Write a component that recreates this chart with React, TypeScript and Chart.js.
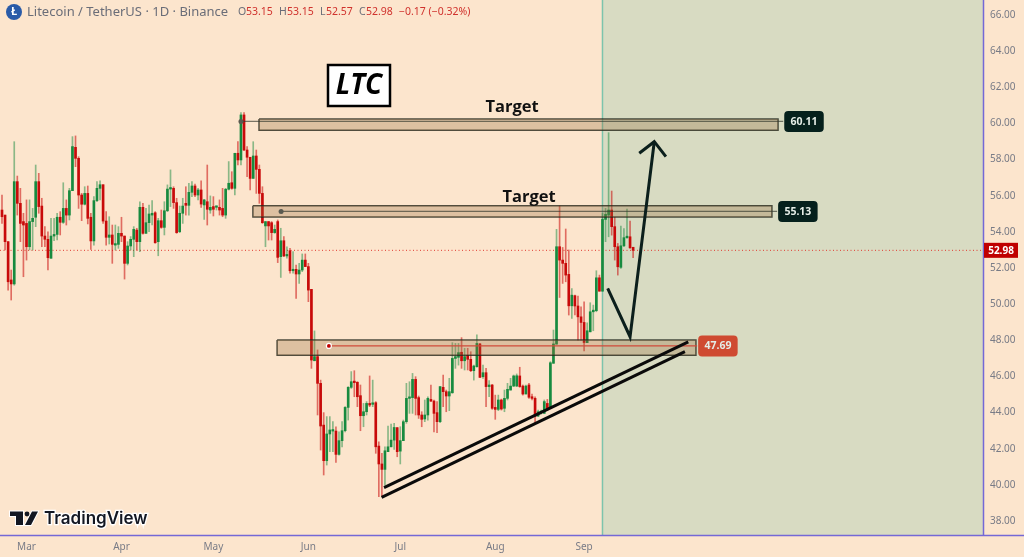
import React, { useEffect, useRef } from 'react';
import { Chart, registerables } from 'chart.js';

Chart.register(...registerables);

const opens = [
  55.21, 54.93, 53.46, 51.34, 51.12, 56.78, 55.58, 54.57, 54.47, 53.18,
  54.57, 54.81, 56.78, 55.43, 53.77, 53.59, 52.54, 53.77, 53.86, 54.81,
  54.53, 55.30, 54.93, 56.28, 58.68, 58.07, 56.04, 55.53, 56.13, 54.81,
  53.50, 55.73, 56.41, 56.61, 54.60, 53.70, 53.83, 53.27, 53.31, 53.92,
  53.77, 52.26, 53.22, 53.59, 54.10, 53.46, 55.36, 53.92, 54.51, 54.93,
  55.06, 53.46, 54.62, 54.25, 55.17, 56.37, 56.41, 55.62, 54.01, 55.03,
  55.58, 55.47, 56.19, 56.54, 56.04, 56.32, 55.49, 55.67, 55.21, 55.40,
  55.36, 55.36, 55.30, 54.93, 56.36, 56.72, 56.41, 58.35, 57.98, 60.47,
  58.53, 58.13, 56.96, 58.20, 57.46, 56.13, 54.33, 54.57, 54.51, 53.96,
  54.57, 52.63, 53.51, 52.67, 52.96, 51.85, 51.93, 51.67, 51.89, 52.44,
  52.08, 50.82, 46.87, 47.10, 45.62, 43.31, 41.34, 42.82, 42.98, 42.98,
  41.69, 42.45, 43.00, 44.29, 45.40, 45.71, 45.68, 44.94, 43.83, 44.05,
  44.51, 44.46, 44.55, 42.15, 41.16, 40.86, 41.84, 42.11, 42.48, 43.17,
  41.87, 42.45, 43.50, 44.79, 44.83, 45.84, 44.83, 43.87, 43.65, 43.87,
  44.73, 44.64, 44.00, 43.50, 45.40, 45.16, 44.92, 45.10, 47.00, 47.06,
  47.34, 46.87, 47.17, 46.95, 46.32, 46.54, 47.80, 45.99, 46.21, 45.44,
  45.53, 44.29, 44.18, 44.70, 44.24, 44.79, 45.25, 45.47, 45.47, 46.03,
  45.47, 45.03, 45.53, 44.88, 44.79, 43.81, 44.00, 43.96, 44.51, 44.29,
  46.73, 47.79, 53.18, 52.44, 52.26, 51.65, 49.91, 50.47, 49.90, 49.30,
  48.99, 47.87, 48.47, 49.58, 49.64, 51.46, 50.72, 54.69, 54.93, 55.21,
  54.29, 53.18, 52.04, 53.23, 53.68, 53.73, 53.15,
];
const closes = [
  54.84, 53.46, 51.24, 51.12, 56.78, 55.58, 54.47, 54.38, 53.18, 54.57,
  54.75, 56.78, 55.40, 53.77, 53.59, 52.57, 53.77, 53.86, 54.81, 54.53,
  55.30, 54.93, 56.28, 58.72, 58.07, 56.04, 55.53, 56.13, 54.75, 53.50,
  55.73, 56.41, 56.61, 54.60, 53.70, 53.83, 53.31, 53.31, 53.92, 53.77,
  52.26, 53.22, 53.59, 54.14, 53.46, 55.36, 53.92, 54.51, 54.99, 55.03,
  53.40, 54.62, 54.25, 55.17, 56.37, 56.41, 55.62, 53.96, 55.03, 55.43,
  55.47, 56.19, 56.54, 56.04, 56.32, 55.54, 55.77, 55.25, 55.36, 55.25,
  55.40, 55.21, 54.93, 56.36, 56.69, 56.41, 58.35, 57.98, 60.47, 58.53,
  58.13, 56.96, 58.20, 57.46, 56.13, 54.51, 54.57, 54.33, 53.96, 54.14,
  52.59, 53.51, 52.67, 52.72, 51.85, 51.93, 51.67, 51.89, 52.44, 52.08,
  50.78, 46.91, 47.10, 45.62, 43.26, 41.34, 42.82, 43.04, 43.04, 41.69,
  42.45, 43.00, 44.29, 45.40, 45.71, 45.66, 44.88, 43.83, 44.05, 44.51,
  44.42, 44.51, 42.11, 41.16, 40.86, 41.89, 42.11, 42.48, 43.18, 41.84,
  42.45, 43.50, 44.79, 44.83, 45.84, 44.79, 43.87, 43.63, 43.87, 44.79,
  44.64, 43.96, 43.50, 45.44, 45.16, 44.92, 45.16, 47.00, 47.10, 47.32,
  46.87, 47.10, 46.95, 46.32, 46.58, 47.83, 45.95, 46.21, 45.44, 45.53,
  44.24, 44.18, 44.70, 44.20, 44.79, 45.29, 45.47, 46.03, 46.04, 45.44,
  45.03, 45.47, 44.85, 44.79, 43.81, 44.05, 44.05, 44.61, 44.24, 46.76,
  47.80, 53.18, 52.44, 52.26, 51.61, 49.91, 50.50, 49.90, 49.30, 48.99,
  47.88, 48.53, 49.58, 49.67, 51.46, 50.72, 54.69, 54.97, 55.21, 54.29,
  53.18, 52.07, 53.23, 53.68, 53.73, 53.12, 52.98,
];
const highs = [
  56.04, 54.93, 53.46, 51.89, 58.99, 57.09, 56.41, 55.03, 55.77, 55.77,
  55.30, 57.70, 57.24, 55.86, 54.29, 54.01, 54.75, 54.75, 55.03, 55.12,
  56.72, 55.77, 56.41, 59.27, 59.31, 58.16, 56.13, 56.50, 56.54, 55.03,
  55.95, 56.78, 56.83, 56.61, 55.12, 54.84, 54.38, 54.38, 54.29, 54.81,
  53.77, 53.46, 53.74, 54.29, 54.20, 55.67, 55.58, 55.30, 55.49, 55.73,
  55.12, 54.75, 55.21, 55.67, 56.60, 57.43, 56.50, 55.86, 55.43, 55.86,
  56.50, 56.69, 56.78, 56.65, 56.41, 56.83, 55.80, 57.70, 55.99, 55.95,
  55.43, 55.77, 56.41, 56.41, 57.89, 57.33, 58.35, 58.99, 60.60, 60.60,
  58.72, 58.13, 58.99, 58.53, 57.70, 56.50, 54.57, 54.57, 54.57, 54.38,
  54.66, 54.20, 53.74, 53.18, 53.09, 52.91, 52.17, 52.26, 52.78, 52.78,
  52.26, 50.82, 48.52, 47.47, 45.80, 44.00, 43.78, 43.78, 43.50, 43.22,
  42.94, 43.50, 44.33, 45.44, 46.27, 46.32, 45.71, 45.53, 44.51, 44.61,
  46.03, 45.80, 44.61, 42.39, 41.75, 42.11, 43.26, 43.37, 43.41, 43.17,
  43.22, 43.59, 45.62, 45.71, 46.17, 45.99, 44.92, 44.05, 44.70, 44.88,
  45.53, 44.70, 44.61, 45.44, 46.08, 45.25, 45.90, 47.87, 47.83, 47.83,
  48.15, 47.56, 47.56, 47.37, 46.63, 48.30, 47.83, 46.63, 46.45, 45.77,
  45.56, 44.97, 44.97, 44.75, 45.25, 45.62, 45.90, 46.08, 46.14, 46.51,
  45.53, 45.53, 45.62, 45.03, 44.88, 44.14, 44.14, 44.70, 44.73, 46.82,
  48.57, 54.14, 55.43, 53.14, 54.16, 53.00, 50.87, 50.50, 50.45, 49.86,
  50.13, 48.97, 50.08, 49.95, 51.85, 51.61, 55.02, 55.30, 59.49, 56.26,
  54.80, 53.36, 54.32, 54.19, 55.26, 54.60, 53.15,
];
const lows = [
  54.47, 53.00, 50.78, 50.23, 51.05, 54.93, 53.46, 51.52, 52.44, 53.00,
  53.00, 54.29, 55.03, 53.18, 53.18, 51.89, 52.54, 53.51, 53.55, 53.83,
  54.47, 54.38, 54.66, 56.28, 57.61, 55.30, 54.62, 55.49, 54.44, 53.03,
  53.27, 55.67, 55.77, 54.47, 53.27, 53.33, 52.26, 53.00, 53.09, 53.46,
  51.39, 52.17, 53.00, 52.63, 53.00, 52.91, 53.88, 53.92, 54.01, 54.38,
  53.37, 52.68, 54.20, 53.83, 55.12, 55.40, 55.30, 53.92, 53.96, 54.47,
  54.93, 54.93, 55.95, 55.95, 55.77, 55.36, 54.69, 54.38, 55.03, 54.88,
  55.21, 54.93, 54.84, 54.75, 56.32, 56.36, 56.04, 57.70, 57.70, 58.50,
  57.06, 56.32, 56.96, 56.13, 55.58, 54.47, 53.18, 53.55, 53.55, 53.92,
  52.30, 51.48, 52.63, 52.54, 51.71, 51.71, 50.32, 51.15, 51.80, 52.08,
  50.14, 46.45, 46.87, 43.87, 41.93, 40.55, 41.10, 41.84, 41.84, 41.25,
  41.65, 42.11, 42.94, 43.59, 45.34, 44.88, 44.33, 43.00, 43.22, 43.87,
  44.33, 44.33, 41.75, 39.35, 39.35, 39.99, 41.84, 42.11, 41.97, 41.56,
  41.16, 42.45, 43.41, 43.96, 43.96, 43.87, 43.68, 43.22, 43.50, 43.59,
  44.61, 42.94, 42.89, 43.44, 44.33, 44.05, 44.11, 45.07, 46.45, 46.63,
  46.45, 46.36, 46.36, 46.27, 45.80, 46.51, 45.95, 45.90, 44.33, 44.88,
  44.18, 43.63, 44.11, 44.14, 44.05, 44.70, 45.25, 45.44, 45.44, 45.40,
  44.97, 45.03, 44.79, 44.70, 43.41, 43.78, 43.92, 43.96, 44.11, 44.29,
  46.73, 47.79, 50.37, 51.15, 51.24, 49.40, 49.21, 49.40, 48.01, 48.01,
  47.42, 47.87, 48.47, 48.53, 49.58, 50.72, 50.72, 53.46, 53.73, 53.82,
  52.44, 51.61, 51.98, 53.18, 53.64, 53.09, 52.57,
];

const months = ['Mar', 'Apr', 'May', 'Jun', 'Jul', 'Aug', 'Sep'];
const monthCandles = [8, 39, 69, 100, 130, 161, 190];

const lastPrice = 52.98;
const projectionStart = 196;

// [left candle, right candle, top price, bottom price]
const bands = [
  [83.9, 253.3, 60.25, 59.62],
  [81.9, 251.3, 55.45, 54.83],
  [89.8, 226.5, 48.02, 47.17],
];
// [first candle, last candle, price, label]
const levels = [
  [78, 255, 60.11, '60.11'],
  [91.1, 253, 55.13, '55.13'],
  [106.7, 226.9, 47.69, '47.69'],
];
const trendUpper = [
  { x: 124.7, y: 39.85 },
  { x: 224, y: 47.92 },
];
const trendLower = [
  { x: 123.9, y: 39.31 },
  { x: 222.9, y: 47.37 },
];
const arrowPath = [
  { x: 197.7, y: 50.88 },
  { x: 205, y: 48.2 },
  { x: 212.9, y: 58.99 },
];
const arrowHead = [
  { x: 208, y: 58.35 },
  { x: 212.9, y: 58.99 },
  { x: 216.7, y: 58.16 },
];

const X_MIN = -0.65;
const X_MAX = 320.2;
const Y_MIN = 37.23;
const Y_MAX = 66.83;

const UP = '#178a3f';
const DOWN = '#c80a0a';
const UP_WICK = 'rgba(23, 138, 63, 0.5)';
const DOWN_WICK = 'rgba(200, 10, 10, 0.55)';
const BAND_FILL = 'rgba(150, 105, 60, 0.3)';
const BAND_EDGE = 'rgba(30, 35, 25, 0.8)';
const GREY = '#787b86';
const FONT = '"Noto Sans", sans-serif';

const line = (data: any[], color: string, width: number, order: number, extra: any = {}) => ({
  type: 'line',
  data,
  borderColor: color,
  borderWidth: width,
  pointRadius: 0,
  tension: 0,
  order,
  ...extra,
});

// axis labels must not push the plot area away from the canvas edges
const noPadding = (scale: any) => {
  scale.paddingTop = 0;
  scale.paddingBottom = 0;
  scale.paddingLeft = 0;
  scale.paddingRight = 0;
};

const overlay = {
  id: 'overlay',
  afterDraw(chart: any) {
    const { ctx, scales } = chart;
    const xs = scales.x;
    const ys = scales.y;
    ctx.save();

    // purple frame of the price and time axes
    ctx.strokeStyle = '#7468d6';
    ctx.lineWidth = 1.5;
    ctx.beginPath();
    ctx.moveTo(0, 535.5);
    ctx.lineTo(1024, 535.5);
    ctx.moveTo(983.5, 0);
    ctx.lineTo(983.5, 535);
    ctx.stroke();

    // header
    ctx.fillStyle = '#2a5ba8';
    ctx.beginPath();
    ctx.arc(14, 12, 8, 0, Math.PI * 2);
    ctx.fill();
    ctx.fillStyle = '#ffffff';
    ctx.font = `bold 11px ${FONT}`;
    ctx.textAlign = 'center';
    ctx.textBaseline = 'middle';
    ctx.fillText('Ł', 14, 12);

    ctx.textAlign = 'left';
    ctx.font = `13px ${FONT}`;
    ctx.fillStyle = '#6a6d78';
    ctx.fillText('Litecoin / TetherUS · 1D · Binance', 27, 12);

    ctx.font = `10.5px ${FONT}`;
    const ohlc = [
      ['O', 238, '53.15', 246],
      ['H', 279, '53.15', 287],
      ['L', 320, '52.57', 326],
      ['C', 359, '52.98', 366],
    ];
    ohlc.forEach(([k, kx, v, vx]) => {
      ctx.fillStyle = '#6a6d78';
      ctx.fillText(k as string, kx as number, 12);
      ctx.fillStyle = '#d0322d';
      ctx.fillText(v as string, vx as number, 12);
    });
    ctx.fillStyle = '#d0322d';
    ctx.fillText('−0.17 (−0.32%)', 399, 12);

    // LTC box
    ctx.fillStyle = '#ffffff';
    ctx.fillRect(328, 65, 62, 41);
    ctx.strokeStyle = '#000000';
    ctx.lineWidth = 2.5;
    ctx.strokeRect(328, 65, 62, 41);
    ctx.fillStyle = '#000000';
    ctx.font = `italic bold 28px "Open Sans", sans-serif`;
    ctx.textAlign = 'center';
    ctx.fillText('LTC', 359, 86);

    // target captions
    ctx.font = `bold 16.5px "Open Sans", sans-serif`;
    ctx.fillStyle = '#111111';
    ctx.fillText('Target', 512, 107);
    ctx.fillText('Target', 529, 197);

    // price tags on the levels
    levels.forEach(([, right, price, text], i) => {
      const px = xs.getPixelForValue(right as number);
      const py = ys.getPixelForValue(price as number);
      const boxX = px + 1;
      ctx.fillStyle = i === 2 ? '#cf4a31' : '#05201c';
      ctx.beginPath();
      ctx.roundRect(boxX, py - 10.5, 39.5, 21, 4);
      ctx.fill();
      ctx.fillStyle = '#e4ece6';
      ctx.font = `bold 10.5px ${FONT}`;
      ctx.fillText(text as string, boxX + 19.75, py + 0.5);
    });

    // last price tag
    const lastY = ys.getPixelForValue(lastPrice);
    ctx.fillStyle = '#c00000';
    ctx.fillRect(984, lastY - 7.5, 34, 15);
    ctx.fillStyle = '#ffffff';
    ctx.font = `bold 10px ${FONT}`;
    ctx.fillText('52.98', 1001, lastY + 0.5);

    // TradingView mark
    ctx.fillStyle = '#131722';
    ctx.strokeStyle = '#ffffff';
    ctx.lineWidth = 2;
    const mark = new Path2D();
    mark.moveTo(10, 511.5);
    mark.lineTo(23, 511.5);
    mark.lineTo(23, 525);
    mark.lineTo(16, 525);
    mark.lineTo(16, 516);
    mark.lineTo(10, 516);
    mark.closePath();
    mark.moveTo(32, 511.5);
    mark.lineTo(38, 511.5);
    mark.lineTo(31, 525);
    mark.lineTo(25, 525);
    mark.closePath();
    ctx.stroke(mark);
    ctx.fill(mark);
    ctx.beginPath();
    ctx.arc(27, 514, 2.4, 0, Math.PI * 2);
    ctx.fill();
    ctx.textAlign = 'left';
    ctx.font = `600 17px Inter, sans-serif`;
    ctx.lineWidth = 2.5;
    ctx.strokeText('TradingView', 44, 519);
    ctx.fillText('TradingView', 44, 519);

    ctx.restore();
  },
};

const App: React.FC = () => {
  const canvasRef = useRef<HTMLCanvasElement>(null);

  useEffect(() => {
    if (!canvasRef.current) return;

    const candleIds = opens.map((_, i) => i);
    const isUp = (i: number) => closes[i] >= opens[i];

    const bandSets = bands.flatMap(([l, r, top, bottom]) => [
      line([{ x: l, y: top }, { x: r, y: top }], 'transparent', 0, 3, {
        fill: { value: bottom },
        backgroundColor: BAND_FILL,
      }),
      line(
        [
          { x: l, y: top },
          { x: r, y: top },
          { x: r, y: bottom },
          { x: l, y: bottom },
          { x: l, y: top },
        ],
        BAND_EDGE,
        1.5,
        3
      ),
    ]);

    const levelSets = levels.map(([l, r, price], i) =>
      line(
        [{ x: l, y: price }, { x: r, y: price }],
        i === 2 ? '#d04a3a' : 'rgba(50, 55, 45, 0.65)',
        1.2,
        2,
        {
          pointRadius: [2.5, 0],
          pointBackgroundColor: i === 2 ? '#c00000' : '#5a5a50',
          pointBorderColor: i === 2 ? '#ffffff' : 'transparent',
        }
      )
    );

    const chart = new Chart(canvasRef.current, {
      type: 'bar',
      data: {
        datasets: [
          line(
            [{ x: projectionStart, y: Y_MAX }, { x: X_MAX, y: Y_MAX }],
            'transparent',
            0,
            10,
            { fill: { value: Y_MIN }, backgroundColor: '#d8dbc2' }
          ),
          line(
            [{ x: projectionStart, y: Y_MIN }, { x: projectionStart, y: Y_MAX }],
            '#7cc4ac',
            1.5,
            9
          ),
          line(
            [{ x: X_MIN, y: lastPrice }, { x: X_MAX, y: lastPrice }],
            '#e0392f',
            1,
            8,
            { borderDash: [1, 2.5] }
          ),
          {
            label: 'wick',
            data: candleIds.map(i => ({ x: i, y: [lows[i], highs[i]] })),
            backgroundColor: candleIds.map(i => (isUp(i) ? UP_WICK : DOWN_WICK)),
            barThickness: 1,
            grouped: false,
            order: 6,
          },
          {
            label: 'body',
            data: candleIds.map(i => ({ x: i, y: [opens[i], closes[i]] })),
            backgroundColor: candleIds.map(i => (isUp(i) ? UP : DOWN)),
            barThickness: 2,
            minBarLength: 1.5,
            grouped: false,
            order: 5,
          },
          ...bandSets,
          ...levelSets,
          line(trendUpper, '#0a0a0a', 3, 1),
          line(trendLower, '#0a0a0a', 3, 1),
          line(arrowPath, '#0b1f1c', 3, 1, { borderJoinStyle: 'miter' }),
          line(arrowHead, '#0b1f1c', 3, 1, { borderJoinStyle: 'miter' }),
        ] as any,
      },
      options: {
        responsive: false,
        animation: false,
        layout: { padding: 0, autoPadding: false },
        plugins: {
          legend: { display: false },
          tooltip: { enabled: false },
        },
        scales: {
          x: {
            type: 'linear',
            min: X_MIN,
            max: X_MAX,
            offset: false,
            grid: { display: false, drawTicks: false },
            border: { display: false },
            afterBuildTicks: (scale: any) => {
              scale.ticks = monthCandles.map(value => ({ value }));
            },
            afterFit: (scale: any) => {
              scale.height = 22;
              noPadding(scale);
            },
            ticks: {
              autoSkip: false,
              maxRotation: 0,
              padding: 6,
              color: GREY,
              font: { family: FONT, size: 10 },
              callback: (value: any) => months[monthCandles.indexOf(Number(value))],
            },
          },
          y: {
            type: 'linear',
            position: 'right',
            min: Y_MIN,
            max: Y_MAX,
            grid: { display: false, drawTicks: false },
            border: { display: false },
            afterFit: (scale: any) => {
              scale.width = 41;
              noPadding(scale);
            },
            ticks: {
              stepSize: 2,
              includeBounds: false,
              padding: 7,
              color: GREY,
              font: { family: FONT, size: 10 },
              callback: (value: any) => Number(value).toFixed(2),
            },
          },
        },
      },
      plugins: [overlay],
    } as any);

    return () => {
      chart.destroy();
    };
  }, []);

  return (
    <div style={{ position: 'absolute', left: 0, top: 0, width: 1024, height: 557, background: '#fce5cd', overflow: 'hidden' }}>
      <canvas ref={canvasRef} width={1024} height={557} style={{ display: 'block' }} />
    </div>
  );
};

export default App;
